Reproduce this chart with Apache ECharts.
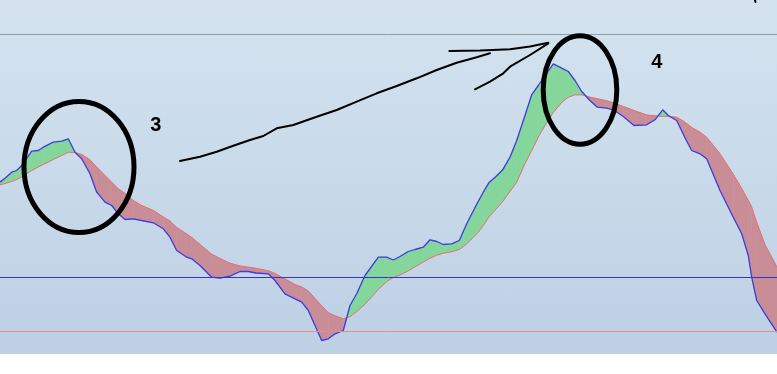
<!DOCTYPE html>
<html><head><meta charset="utf-8">
<script src="https://cdn.jsdelivr.net/npm/echarts/dist/echarts.min.js"></script>
<style>
html,body{margin:0;padding:0;background:#fff}
#c{width:777px;height:374px;background:linear-gradient(to bottom,#d4e3ef 0px,#bdd0e4 354px,#ffffff 354px,#ffffff 374px);}
</style></head><body><div id="c"></div><script>
// x positions of the samples (time units across the chart)
const xs = [0,5,11.7,16.7,21.7,31.7,38.3,43.3,53.3,61.7,68.3,75,81.7,90,96.7,105,111.7,118.3,125,133.3,
  141.7,153.3,163.3,170,176.7,186.7,191.7,200,211.7,220,230,240,248.3,256,268.3,275,285,295,301.7,308.3,
  321.7,328.3,335,343.3,350,356.7,365,378.3,386.7,393.3,400,408.3,415,423.3,430,436.7,443.3,451.7,459.3,466.7,
  478.3,483.3,489.3,496,502.7,510,516.7,525,531.7,538.3,541.7,553.3,561.7,568.3,575,581.7,590,597.3,606.7,613.3,
  623.3,634,646.7,655,662.7,668.3,676.7,685,691.7,700,706.7,720,733.3,741.7,748.3,751.7,756.7,765,777];
// fast line (blue) — values on a downward scale
const blue = [181.7,177.7,171.7,170,165,150.7,150,146.7,141.7,140.7,138.3,151.7,158.3,173.3,191.7,201.7,205,213.3,219,218.3,
  220,222.3,228.3,236.7,250,256.7,258.3,265,276.7,277.7,275.7,271,271,272.5,273.3,280,293.3,298.3,301.7,310,
  340,338.3,333.3,330,305,293.3,275,256.7,256.7,259.5,256,251,249,246.7,239.3,241,244,243.3,240,223.3,
  200.7,191.7,181.7,176,169.3,156.7,140,115,94.3,85,80,63.3,67.7,71,80,91,100,106.7,107.7,109.3,
  116,125,124.3,119.3,109.3,115,120,137.3,150,153.3,158.3,190,216.7,233.3,255,276.7,300,313.3,331.7];
// slow line (red)
const red = [184.3,183,181,179,176.5,170,166.5,164,159,155,151.7,152,154,159.3,166.5,175,181.7,188.3,193,200,
  205,210,216.5,220.5,227,233.5,237,244,253.7,258,262.7,265.5,266.7,267.8,270.3,273,278.5,284,286.5,290.5,
  305.3,312.3,315.3,318.3,316,311,303.7,289,281,277,274.5,270.3,266.3,261.5,257.7,254.7,252.7,251.2,249,243.3,
  231.7,225,216,208.5,201,191,181.7,163,150,136.7,130.5,112,102,96.7,94.3,94.3,96.7,98.2,100.3,102.3,
  106,110,114.5,115.3,115.8,116,116.6,121.7,127,131.7,136.8,153.3,173.8,188,200,206.8,221.8,244.2,266.7];
// horizontal reference levels
const levels = [34, 277, 331];

const GREEN = '#85d69b', REDF = '#c98d97';
const levelColors = ['#8f9ea6', '#3434d2', '#e88c8c'];

function renderBand(params, api) {
  const i = params.dataIndex;
  if (i >= xs.length - 1) return null;
  const b0 = api.coord([xs[i], blue[i]]), b1 = api.coord([xs[i+1], blue[i+1]]);
  const r0 = api.coord([xs[i], red[i]]), r1 = api.coord([xs[i+1], red[i+1]]);
  const d0 = r0[1] - b0[1], d1 = r1[1] - b1[1];
  const col = d => d >= 0 ? GREEN : REDF;
  const poly = (pts, c) => ({type:'polygon', shape:{points:pts}, style:{fill:c, stroke:c, lineWidth:0.5}});
  if ((d0 >= 0) === (d1 >= 0)) return poly([b0,b1,r1,r0], col(d0 + d1));
  const t = d0 / (d0 - d1);
  const c = [b0[0] + t*(b1[0]-b0[0]), b0[1] + t*(b1[1]-b0[1])];
  return {type:'group', children:[poly([b0,c,r0], col(d0)), poly([c,b1,r1], col(d1))]};
}

const chart = echarts.init(document.getElementById('c'), null, {renderer:'canvas'});
const ann = {fill:null, stroke:'#000', lineWidth:2, lineJoin:'round', lineCap:'round'};
chart.setOption({
  animation:false,
  backgroundColor:'transparent',
  grid:{left:0, right:0, top:0, bottom:20},
  xAxis:{type:'value', min:0, max:777, show:false},
  yAxis:{type:'value', min:-0.5, max:353.5, inverse:true, show:false},
  series:[
    {type:'custom', renderItem:renderBand, data:xs.map((x,i)=>[x, blue[i], red[i]]), clip:false, z:1, silent:true},
    {type:'line', data:[], z:2, silent:true,
      markLine:{silent:true, symbol:'none', label:{show:false},
        data:levels.map((v,k)=>({yAxis:v, lineStyle:{color:levelColors[k], width:1, type:'solid'}}))}},
    {type:'line', data:xs.map((x,i)=>[x, red[i]]), showSymbol:false, symbol:'none', z:3,
      lineStyle:{color:'#e8706e', width:1}},
    {type:'line', data:xs.map((x,i)=>[x, blue[i]]), showSymbol:false, symbol:'none', z:4,
      lineStyle:{color:'#3c3ce0', width:1.3}}
  ],
  graphic:[
    {type:'ellipse', z:100, shape:{cx:79, cy:167, rx:55, ry:65.5}, style:{fill:null, stroke:'#000', lineWidth:5}},
    {type:'ellipse', z:100, shape:{cx:580, cy:90, rx:36.8, ry:54.2}, style:{fill:null, stroke:'#000', lineWidth:5}},
    {type:'text', z:100, x:155.8, y:125, style:{text:'3', font:'bold 20px "Liberation Sans", Arial, sans-serif', fill:'#000', align:'center', verticalAlign:'middle'}},
    {type:'text', z:100, x:656.8, y:62.5, style:{text:'4', font:'bold 20px "Liberation Sans", Arial, sans-serif', fill:'#000', align:'center', verticalAlign:'middle'}},
    {type:'polyline', z:100, shape:{points:[[180,161],[200,156.7],[216.7,151.7],[233.3,145.7],[250,140],[263.3,136],[276.7,128.3],[293.3,125],[316.7,116.7],[336.7,110],[356.7,101.7],[376.7,93.3],[396.7,86],[416.7,78.3],[436.7,70],[456.7,62.7],[476.7,57.3],[490,53.3]]}, style:ann},
    {type:'polyline', z:100, shape:{points:[[449.3,51],[480,50.5],[510,49.3],[530,46.5],[548.3,42.7]]}, style:ann},
    {type:'polyline', z:100, shape:{points:[[475,89.3],[490,81.7],[503.3,73.3],[510,66.7],[530,55],[548.3,43.3]]}, style:ann},
    {type:'polyline', z:100, shape:{points:[[755,0],[755.5,2]]}, style:ann}
  ]
});
</script></body></html>
